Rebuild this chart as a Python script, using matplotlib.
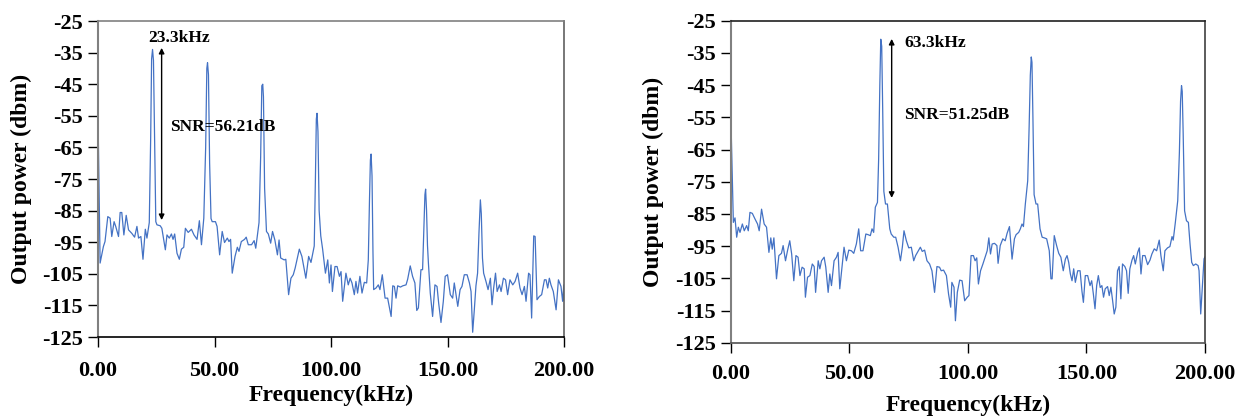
import numpy as np
import matplotlib
matplotlib.use('Agg')
import matplotlib.pyplot as plt

plt.rcParams['font.family'] = ['Liberation Serif', 'DejaVu Serif']
plt.rcParams['font.weight'] = 'bold'
plt.rcParams['axes.unicode_minus'] = False

# spectrum 1 (23.3 kHz signal)
freq_a = [0, 0.9, 2.3, 3, 4.2, 5.2, 5.9, 6.9, 7.6, 8.8, 9.5, 10.2, 11.1, 12.1, 13.1, 14.5, 15.7, 16.7,
          17.4, 18.4, 19.3, 20.3, 21, 22, 22.6, 23.0, 23.4, 23.8, 24.3, 24.8, 25.3, 26.7, 27.4, 28.9,
          29.6, 30.6, 31.5, 32.2, 32.9, 33.9, 34.9, 35.8, 36.8, 37.5, 38.7, 40.1, 41.2, 42.5, 43.5,
          44.4, 45.4, 46.2, 46.7, 47.0, 47.4, 47.9, 48.5, 49, 50.4, 51.1, 52.2, 53.3, 54.3, 55.5,
          56.2, 56.9, 57.6, 58.8, 59.8, 60.5, 61.5, 62.9, 63.6, 64.5, 65.9, 67, 67.7, 69.1, 69.8,
          70.3, 70.7, 71.0, 71.5, 72.3, 73.1, 74.1, 74.9, 75.9, 77, 77.7, 78.4, 79.9, 80.6, 81.8,
          82.8, 83.8, 84.6, 86.4, 87.5, 89.2, 90.4, 91.4, 92.8, 93.3, 93.7, 94.0, 94.4, 94.9, 95.6,
          96.4, 97.6, 98.6, 99.3, 100.0, 100.6, 101.7, 102.6, 103.6, 104.3, 105, 106.4, 107.4, 108.2,
          109, 110, 110.7, 111.4, 112.4, 113.3, 114.3, 115.3, 116.0, 116.5, 116.9, 117.2, 117.6,
          118.0, 118.3, 119.3, 120.3, 121, 122, 123.2, 124.3, 125.8, 126.5, 127.2, 127.9, 128.6,
          129.8, 130.8, 132.2, 132.9, 134, 135, 136, 136.8, 137.5, 138.6, 139.3, 139.9, 140.3, 140.6,
          141.0, 141.4, 141.8, 142.6, 143.6, 144.6, 145.5, 146.2, 147.2, 148.2, 149, 150, 151.2,
          152.2, 152.9, 154.4, 155.4, 156.2, 157.2, 158.4, 159.4, 160.1, 160.8, 161.5, 162.2, 162.9,
          163.5, 164.1, 164.5, 165.0, 165.5, 166.5, 167.4, 168.4, 169.1, 169.8, 170.6, 171.3, 172.3,
          173, 174, 174.9, 175.8, 176.8, 178, 179, 180.1, 181.1, 182, 183, 183.7, 184.8, 185.4,
          186.1, 187.0, 187.6, 188.4, 189.4, 190.4, 191.6, 192.3, 193, 193.7, 194.4, 195.4, 196.6,
          197.6, 198.7, 199.4, 199.9, 200]
dbm_a = [-55, -101.6, -96.4, -94.8, -86.9, -87.4, -93.2, -88.5, -90, -93.2, -85.6, -85.6, -92.7, -86.5,
         -91.1, -92.2, -93.4, -90, -93.7, -93.2, -100.4, -90.9, -93.7, -88.8, -62, -37, -34, -37.5,
         -62, -88.5, -89.5, -89.8, -90.6, -97.4, -92.7, -93.7, -92.4, -94.1, -92.4, -98.5, -100.4,
         -97.2, -96.6, -90.6, -91.9, -90.9, -92.7, -94.1, -88.2, -95.8, -87.4, -65, -40, -38.2, -42,
         -70, -87.5, -88.5, -88.5, -90, -99, -91.6, -95.1, -93.7, -94.8, -94.1, -104.8, -99.5, -96.6,
         -97.9, -94.8, -94.1, -93.4, -95.8, -95.8, -94.5, -96.9, -88.8, -68, -45.5, -45, -49, -78,
         -91.6, -92.4, -95.3, -91.6, -94.3, -99, -94.3, -100, -100.6, -100.4, -111.6, -106.4, -105.3,
         -103.2, -97.2, -99.5, -106.4, -99.5, -101.4, -96.2, -75, -56, -54.2, -60, -85, -93, -97.2,
         -104.8, -100.6, -107.9, -102.2, -110.6, -102.7, -102.7, -105.8, -104.3, -113.7, -104.8,
         -108.5, -106.4, -107.9, -111.6, -107.4, -111.1, -105.8, -111.1, -107.7, -107.9, -100.6, -82,
         -69, -67.1, -74, -98, -110, -109.5, -108.5, -110, -105.3, -112.7, -112.7, -118.5, -108.8,
         -109, -112.7, -108.8, -109.2, -108.8, -108.5, -106.7, -102.5, -105.8, -107.9, -116.6, -115.8,
         -103.7, -103.7, -90, -80, -78.2, -85, -96, -101.6, -111.1, -118.5, -108.5, -109, -114.3,
         -120.4, -113.7, -105.8, -105.3, -111.6, -112.7, -107.9, -115.3, -110, -109, -105.3, -105.3,
         -107.9, -110.6, -123.5, -116.4, -108.8, -104.8, -92, -81.6, -86, -100, -104.8, -107.4, -110,
         -106.4, -114.8, -109.5, -104.8, -110.6, -108.5, -110.6, -106.4, -106.9, -111.6, -106.9,
         -108.5, -107.4, -104.8, -109.5, -111.6, -109, -113.7, -104.8, -105.3, -119, -93, -93.2,
         -113.2, -112.2, -111.6, -106.9, -106.9, -109.5, -106.4, -108.5, -110.6, -116.4, -106.9, -109,
         -113.7, -108.5, -113.5]

# spectrum 2 (63.3 kHz signal)
freq_b = [0, 1, 1.7, 2.4, 3.1, 3.8, 4.8, 5.6, 6.6, 7.3, 8, 9, 10.1, 11.2, 11.9, 12.9, 14, 15, 16, 16.8,
          17.4, 18.1, 19.2, 20.2, 21.3, 22, 23, 23.9, 24.8, 25.6, 26.5, 27.4, 28.3, 29.1, 30, 30.9,
          31.4, 32.3, 33.3, 34.3, 35.1, 35.7, 36.8, 37.5, 38.2, 39.3, 40, 41, 41.7, 42.4, 43.5, 44.5,
          45.2, 45.9, 46.9, 47.7, 48.7, 49.7, 50.8, 51.8, 52.9, 53.9, 54.7, 55.7, 56.9, 57.8, 58.8,
          59.5, 60.2, 60.9, 61.8, 62.3, 62.8, 63.2, 63.6, 64.0, 64.5, 65.2, 66, 67, 67.6, 68.7, 69.5,
          70.5, 71.5, 72.3, 73, 74, 75, 76.1, 77.1, 77.9, 78.9, 79.9, 80.7, 81.7, 82.7, 83.8, 84.8,
          85.9, 86.9, 88, 88.7, 89.7, 90.9, 91.8, 92.7, 93.2, 94.1, 94.7, 95.5, 96.5, 97.5, 98.6,
          99.7, 100.4, 101.3, 102.3, 103, 103.7, 104.4, 105.3, 106.3, 107.2, 108.1, 108.8, 109.5,
          110.2, 111.2, 112.2, 112.7, 113.6, 114.7, 115.7, 116.5, 117.5, 118.6, 119.6, 120.3, 121.4,
          122.1, 122.8, 123.4, 124.2, 125.2, 125.8, 126.3, 126.7, 127.0, 127.4, 127.9, 128.7, 129.4,
          130.4, 131.3, 132.2, 133.2, 134.3, 135, 135.5, 136.4, 137.4, 138.3, 139.2, 140.2, 141.1,
          141.8, 142.5, 143.2, 143.9, 144.6, 145.3, 146.3, 147.3, 148.1, 148.7, 149.5, 150.5, 151.5,
          152.2, 152.9, 153.6, 154.3, 155, 155.8, 156.5, 157.2, 157.9, 158.9, 159.6, 160.3, 161,
          161.7, 162.4, 163.1, 163.8, 164.5, 165.2, 166.2, 166.9, 167.6, 168.3, 169.2, 169.9, 170.6,
          171.6, 172.3, 173, 173.7, 174.7, 175.8, 176.8, 177.6, 178.6, 179.6, 180.7, 181.4, 182.4,
          183.1, 184.2, 185.2, 186.1, 186.6, 187.5, 188.5, 189.2, 189.7, 190.1, 190.4, 190.8, 191.4,
          192.2, 193, 193.7, 194.4, 195.1, 196.1, 197.1, 197.5, 198.2, 198.9, 199.6, 200]
dbm_b = [-56.5, -87.6, -86.2, -92.2, -89.1, -90.7, -88.1, -90.2, -88.6, -90.2, -84.5, -84.8, -86.5,
         -88.1, -90.2, -83.5, -88.1, -89.1, -96.9, -92.4, -95.9, -92.4, -105.1, -97.9, -97.2, -94.8,
         -99.5, -96.2, -93.3, -97.4, -105.7, -97.9, -98.4, -104.1, -101.5, -102, -110.8, -104.6,
         -104.1, -100.5, -101.3, -109.3, -99.5, -102, -99.5, -98.4, -101.5, -109.3, -103.6, -107.2,
         -99.5, -98.4, -96.9, -108.2, -101, -95.3, -99.5, -96.2, -96.4, -97.2, -94.3, -89.6, -96.4,
         -96.4, -91.2, -91.4, -91.7, -89.6, -90.7, -82.9, -81.4, -68, -45, -30.8, -33, -52, -78,
         -81.9, -81.9, -89.6, -91.2, -92.2, -92.2, -95.3, -99.5, -95.3, -90.2, -93.3, -95.5, -95.3,
         -99.5, -97.9, -96.6, -95.3, -96.6, -96.2, -99.5, -100.5, -102.6, -109.3, -101.3, -101.5,
         -102.6, -102.4, -104.1, -109.8, -113.9, -106.2, -107.7, -118.1, -109.3, -105.5, -105.7,
         -111.9, -110.8, -110.3, -97.9, -97.9, -99.5, -98.6, -106.7, -102.6, -100.5, -98.4, -96.4,
         -92.4, -97.4, -94.3, -94.1, -94.8, -100.3, -94.8, -92.7, -93.3, -91, -88.9, -99, -92.7,
         -91.4, -90.7, -89.6, -88.1, -88.9, -81.9, -74.7, -58, -42, -36.3, -38, -55, -79, -81.9,
         -81.9, -89.6, -92.2, -92.4, -92.7, -96.4, -105.1, -105.1, -91.7, -94.8, -97.2, -98.4,
         -102.6, -99, -97.9, -100, -103.6, -105.7, -102, -106.2, -102.6, -102.6, -109, -112.4,
         -104.1, -104.1, -107.2, -105.7, -109.8, -114.4, -107.2, -104.1, -107.8, -107.2, -110.8,
         -108.2, -107.5, -110.3, -107.7, -111.7, -116, -113.9, -102.6, -101.3, -111.3, -100.5,
         -101.3, -102.6, -109.6, -102, -99.3, -97.9, -100.5, -96.9, -95.5, -103.6, -97.9, -97.9,
         -100.7, -99.3, -97.4, -95.8, -96.4, -93.1, -97.9, -102.6, -96.4, -95.5, -95.1, -92, -93.1,
         -87.6, -80.9, -66, -50, -45.2, -47, -60, -84, -87.1, -87.6, -94.3, -100, -101, -100.5,
         -101, -102.6, -116, -107.7, -98.9, -98.3]

yticks = np.arange(-125, -24, 10)
xticks = [0, 50, 100, 150, 200]
xtick_labels = ['0.00', '50.00', '100.00', '150.00', '200.00']

fig = plt.figure(figsize=(12.47, 4.16), dpi=100)
ax1 = fig.add_axes([0.0786, 0.1899, 0.3737, 0.7596])
ax2 = fig.add_axes([0.5862, 0.1755, 0.3801, 0.7752])

line_color = '#4472C4'


def style_axes(ax, spine_colors, xlab_y, xpad):
    ax.set_xlim(0, 200)
    ax.set_ylim(-125, -25)
    ax.set_yticks(yticks)
    ax.set_xticks(xticks)
    ax.set_xticklabels(xtick_labels)
    ax.tick_params(axis='both', direction='out', length=7, width=1, labelsize=16, color='black')
    ax.tick_params(axis='x', pad=xpad)
    ax.tick_params(axis='y', pad=4)
    for lbl in ax.get_xticklabels() + ax.get_yticklabels():
        lbl.set_fontweight('bold')
    for side, col in spine_colors.items():
        ax.spines[side].set_color(col)
        ax.spines[side].set_linewidth(1.5 if side == 'left' else 1.2)
    ax.set_xlabel('Frequency(kHz)', fontsize=17, fontweight='bold')
    ax.set_ylabel('Output power (dbm)', fontsize=17, fontweight='bold')
    ax.xaxis.set_label_coords(0.5, xlab_y)
    ax.yaxis.set_label_coords(-0.142, 0.5)


# left panel
ax1.plot(freq_a, dbm_a, color=line_color, lw=0.9)
style_axes(ax1, {'left': '#808080', 'top': '#808080', 'right': '#606060', 'bottom': 'black'}, -0.15, 10)
ax1.annotate('', xy=(27.3, -33.5), xytext=(27.3, -88.0),
             arrowprops=dict(arrowstyle='<|-|>', lw=1, color='black', mutation_scale=8, shrinkA=0, shrinkB=0))
ax1.text(21.5, -30.4, '23.3kHz', fontsize=12.5, fontweight='bold', ha='left', va='center')
ax1.text(30.9, -58.5, 'SNR=56.21dB', fontsize=12.5, fontweight='bold', ha='left', va='center')

# right panel
ax2.plot(freq_b, dbm_b, color=line_color, lw=0.9)
style_axes(ax2, {'left': '#808080', 'top': '#202020', 'right': '#404040', 'bottom': '#505050'}, -0.16, 8)
ax2.annotate('', xy=(67.8, -30.7), xytext=(67.8, -80.0),
             arrowprops=dict(arrowstyle='<|-|>', lw=1, color='black', mutation_scale=8, shrinkA=0, shrinkB=0))
ax2.text(73, -31.9, '63.3kHz', fontsize=12.5, fontweight='bold', ha='left', va='center')
ax2.text(73, -54.3, 'SNR=51.25dB', fontsize=12.5, fontweight='bold', ha='left', va='center')

fig.savefig('out.png', dpi=100)
